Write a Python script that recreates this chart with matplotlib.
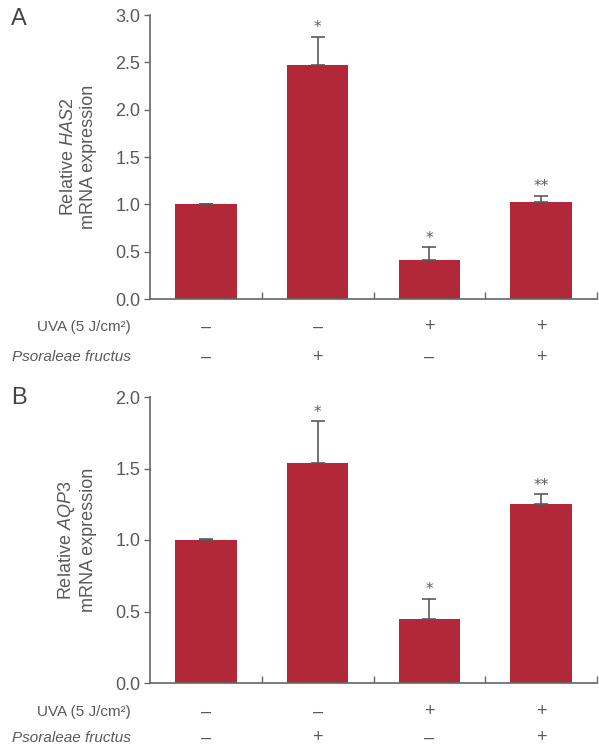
import matplotlib
matplotlib.use("Agg")
import matplotlib.pyplot as plt
import matplotlib.transforms as mtransforms

plt.rcParams['font.family'] = ['Liberation Sans', 'DejaVu Sans']
plt.rcParams['mathtext.fontset'] = 'custom'
plt.rcParams['mathtext.rm'] = 'Liberation Sans'
plt.rcParams['mathtext.it'] = 'Liberation Sans:italic'

groups = ["1", "2", "3", "4"]
uva = ["–", "–", "+", "+"]
psoraleae = ["–", "+", "–", "+"]

has2_mean = [1.00, 2.47, 0.41, 1.02]
has2_err = [0.005, 0.30, 0.14, 0.07]
has2_sig = ["", "*", "*", "**"]

aqp3_mean = [1.00, 1.54, 0.45, 1.25]
aqp3_err = [0.005, 0.29, 0.14, 0.07]
aqp3_sig = ["", "*", "*", "**"]

BAR = "#B22839"
GRAY = "#5a5a5a"
SPINE = "#666666"

W, H = 599, 750
fig = plt.figure(figsize=(W / 100, H / 100), dpi=100)

def px_ax(left, right, top, bottom):
    return fig.add_axes([left / W, 1 - bottom / H, (right - left) / W, (bottom - top) / H])

def panel(ax, means, errs, sigs, ymax, yticks, gene, letter, row1_px, row2_px, letter_px):
    x = list(range(len(groups)))
    ax.bar(x, means, width=0.55, color=BAR, edgecolor="none", zorder=2)
    ax.errorbar(x, means, yerr=[[0] * len(errs), errs], fmt="none", ecolor=GRAY,
                elinewidth=1.2, capsize=5, capthick=1.2, zorder=3)
    for xi, m, e, s in zip(x, means, errs, sigs):
        if s:
            ax.annotate(s, (xi, m + e), xytext=(0, 1), textcoords="offset points",
                        ha="center", va="bottom", fontsize=11, color=GRAY,
                        family="DejaVu Sans")
    ax.set_xlim(-0.5, len(groups) - 0.5)
    ax.set_ylim(0, ymax)
    ax.set_yticks(yticks)
    ax.set_yticklabels([f"{t:.1f}" for t in yticks], fontsize=13, color=GRAY)
    ax.set_xticks([i + 0.5 for i in range(len(groups))])
    ax.set_xticklabels([])
    ax.tick_params(axis="x", direction="in", length=5, color=SPINE, width=1)
    ax.tick_params(axis="y", direction="out", length=4, color=SPINE, width=1, pad=3)
    for s in ["top", "right"]:
        ax.spines[s].set_visible(False)
    for s in ["left", "bottom"]:
        ax.spines[s].set_color(SPINE)
        ax.spines[s].set_linewidth(1.2)
    ax.set_ylabel(f"Relative $\\it{{{gene}}}$\nmRNA expression", fontsize=13,
                  color=GRAY, labelpad=13, linespacing=1.25)
    tr = mtransforms.blended_transform_factory(ax.transData, fig.transFigure)
    y1 = 1 - row1_px / H
    y2 = 1 - row2_px / H
    fig.text(131 / W, y1, "UVA (5 J/cm²)", ha="right", va="center", fontsize=11, color=GRAY)
    fig.text(131 / W, y2, "Psoraleae fructus", ha="right", va="center", fontsize=11,
             color=GRAY, style="italic")
    for xi, a, b in zip(x, uva, psoraleae):
        ax.text(xi, y1, a, transform=tr, ha="center", va="center", fontsize=13, color=GRAY)
        ax.text(xi, y2, b, transform=tr, ha="center", va="center", fontsize=13, color=GRAY)
    fig.text(11 / W, 1 - letter_px / H, letter, ha="left", va="center", fontsize=17,
             color="#444444")

axA = px_ax(150, 597, 15, 299)
panel(axA, has2_mean, has2_err, has2_sig, 3.0, [0, 0.5, 1.0, 1.5, 2.0, 2.5, 3.0],
      "HAS2", "A", 327, 357, 19)

axB = px_ax(150, 597, 397, 683)
panel(axB, aqp3_mean, aqp3_err, aqp3_sig, 2.0, [0, 0.5, 1.0, 1.5, 2.0],
      "AQP3", "B", 712, 738, 398)

fig.savefig("out.png", dpi=100)
